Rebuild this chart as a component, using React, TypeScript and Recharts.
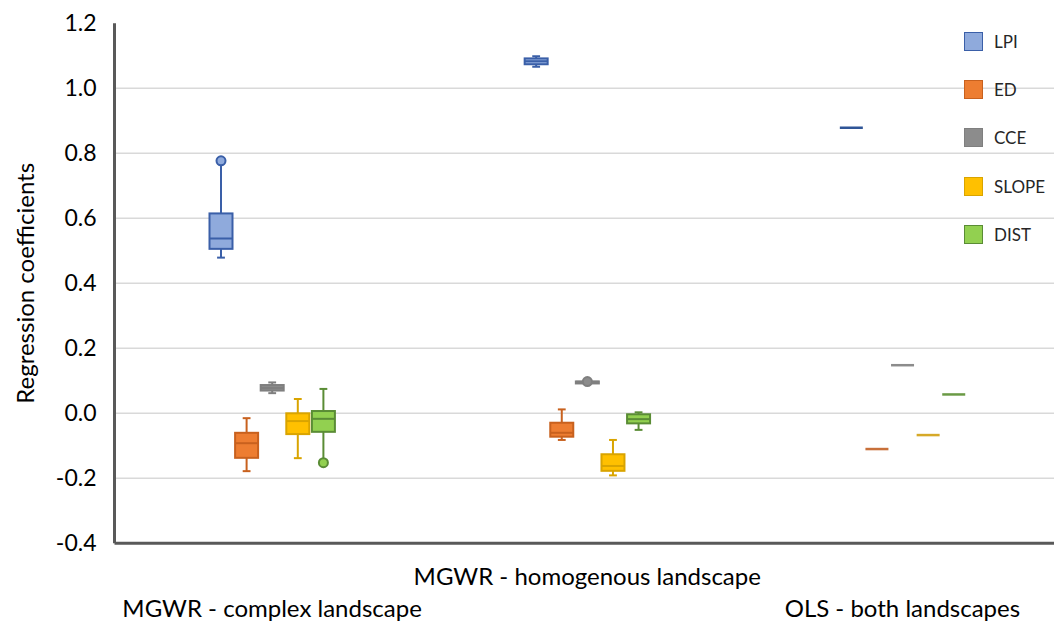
import { BarChart, Bar, XAxis, YAxis, CartesianGrid, Legend } from 'recharts';

// box stats per group: [min, q1, median, q3, max]
const groups = ['MGWR - complex landscape', 'MGWR - homogenous landscape', 'OLS - both landscapes'];
const seriesNames = ['LPI', 'ED', 'CCE', 'SLOPE', 'DIST'];

const lpiStats = [[0.479, 0.506, 0.538, 0.615, 0.77], [1.066, 1.074, 1.083, 1.092, 1.099], [0.879, 0.879, 0.879, 0.879, 0.879]];
const edStats = [[-0.178, -0.137, -0.092, -0.06, -0.015], [-0.082, -0.072, -0.06, -0.029, 0.012], [-0.11, -0.11, -0.11, -0.11, -0.11]];
const cceStats = [[0.062, 0.07, 0.078, 0.087, 0.095], [0.095, 0.096, 0.097, 0.098, 0.099], [0.148, 0.148, 0.148, 0.148, 0.148]];
const slopeStats = [[-0.138, -0.064, -0.024, 0.0, 0.044], [-0.191, -0.177, -0.162, -0.126, -0.082], [-0.067, -0.067, -0.067, -0.067, -0.067]];
const distStats = [[-0.145, -0.057, -0.017, 0.007, 0.075], [-0.051, -0.031, -0.018, -0.003, 0.003], [0.058, 0.058, 0.058, 0.058, 0.058]];

const lpiOutliers = [[0.777], [], []];
const edOutliers = [[], [], []];
const cceOutliers = [[], [0.0975], []];
const slopeOutliers = [[], [], []];
const distOutliers = [[-0.152], [], []];

const yTicks = [-0.4, -0.2, 0, 0.2, 0.4, 0.6, 0.8, 1.0, 1.2];
const gridValues = [-0.2, 0, 0.2, 0.4, 0.6, 0.8, 1.0];

const statsBySeries: Record<string, number[][]> = { LPI: lpiStats, ED: edStats, CCE: cceStats, SLOPE: slopeStats, DIST: distStats };
const outliersBySeries: Record<string, number[][]> = { LPI: lpiOutliers, ED: edOutliers, CCE: cceOutliers, SLOPE: slopeOutliers, DIST: distOutliers };

const colors: Record<string, { fill: string; stroke: string; flat: string }> = {
  LPI: { fill: '#8FAADC', stroke: '#3A5FA8', flat: '#2F5597' },
  ED: { fill: '#ED7D31', stroke: '#C8611E', flat: '#C8703A' },
  CCE: { fill: '#8C8C8C', stroke: '#7F7F7F', flat: '#8C8C8C' },
  SLOPE: { fill: '#FFC000', stroke: '#D9A400', flat: '#D6A928' },
  DIST: { fill: '#92D050', stroke: '#5A8C35', flat: '#6A9A45' },
};

const rows = groups.map((name, gi) => {
  const row: any = { name };
  seriesNames.forEach((s) => {
    const st = statsBySeries[s][gi];
    const out = outliersBySeries[s][gi];
    const all = [...st, ...out];
    row[s] = [Math.min(...all), Math.max(...all)];
    row[s + '_stats'] = st;
    row[s + '_out'] = out;
  });
  return row;
});

const makeBoxShape = (key: string) => (props: any) => {
  const { x, y, width, height, payload } = props;
  const [lo, hi] = payload[key];
  const st: number[] = payload[key + '_stats'];
  const out: number[] = payload[key + '_out'];
  const c = colors[key];
  const top = Math.min(y, y + height);
  const h = Math.abs(height);
  const pix = (v: number) => (hi === lo ? top : top + ((hi - v) / (hi - lo)) * h);
  const cx = x + width / 2;
  const cap = width * 0.17;

  if (st[0] === st[4] && out.length === 0) {
    return <line x1={x} x2={x + width} y1={pix(st[2])} y2={pix(st[2])} stroke={c.flat} strokeWidth={2.5} />;
  }
  const [mn, q1, md, q3, mx] = st;
  return (
    <g>
      <line x1={cx} x2={cx} y1={pix(mx)} y2={pix(q3)} stroke={c.stroke} strokeWidth={2} />
      <line x1={cx} x2={cx} y1={pix(q1)} y2={pix(mn)} stroke={c.stroke} strokeWidth={2} />
      <line x1={cx - cap} x2={cx + cap} y1={pix(mx)} y2={pix(mx)} stroke={c.stroke} strokeWidth={2} />
      <line x1={cx - cap} x2={cx + cap} y1={pix(mn)} y2={pix(mn)} stroke={c.stroke} strokeWidth={2} />
      <rect x={x} y={pix(q3)} width={width} height={Math.max(pix(q1) - pix(q3), 2)} fill={c.fill} stroke={c.stroke} strokeWidth={2} />
      <line x1={x} x2={x + width} y1={pix(md)} y2={pix(md)} stroke={c.stroke} strokeWidth={2} />
      {out.map((o, i) => (
        <circle key={i} cx={cx} cy={pix(o)} r={4.5} fill={c.fill} stroke={c.stroke} strokeWidth={2} />
      ))}
    </g>
  );
};

const GroupTick = (props: any) => {
  const { x, y, payload, index } = props;
  const dy = index === 1 ? 42 : 74;
  return (
    <text x={x} y={y + dy} textAnchor="middle" fontSize={24} fontFamily="Lato" fill="#000">
      {payload.value}
    </text>
  );
};

const LegendContent = () => (
  <div style={{ fontFamily: 'Lato', fontSize: 17, color: '#262626' }}>
    {seriesNames.map((s) => (
      <div key={s} style={{ display: 'flex', alignItems: 'center', height: 48.3 }}>
        <span
          style={{
            display: 'inline-block',
            width: 19,
            height: 19,
            background: colors[s].fill,
            border: `1.5px solid ${colors[s].stroke}`,
            boxSizing: 'border-box',
            marginRight: 11,
          }}
        />
        {s}
      </div>
    ))}
  </div>
);

const App = () => {
  return (
    <div style={{ position: 'absolute', left: 0, top: 0, width: 1054, height: 626, overflow: 'hidden', background: '#fff' }}>
      <BarChart
        width={1060}
        height={626}
        data={rows}
        margin={{ top: 23.3, right: 0, bottom: 0, left: 0 }}
        barSize={23}
        barGap={2.6}
      >
        <CartesianGrid vertical={false} stroke="#D9D9D9" strokeWidth={1.5} horizontalValues={gridValues} />
        <XAxis
          dataKey="name"
          height={82.7}
          tickLine={false}
          tickSize={0}
          tickMargin={0}
          axisLine={{ stroke: '#595959', strokeWidth: 3 }}
          tick={<GroupTick />}
          interval={0}
        />
        <YAxis
          type="number"
          domain={[-0.4, 1.2]}
          ticks={yTicks}
          width={114.5}
          tickLine={false}
          tickSize={0}
          tickMargin={18}
          allowDataOverflow
          axisLine={{ stroke: '#595959', strokeWidth: 3 }}
          tickFormatter={(v: number) => v.toFixed(1)}
          tick={{ fontSize: 23, fontFamily: 'Lato', fill: '#000' }}
          label={{
            value: 'Regression coefficients',
            angle: -90,
            position: 'insideLeft',
            offset: 25,
            style: { textAnchor: 'middle', fontSize: 24, fontFamily: 'Lato', fill: '#000' },
          }}
        />
        <Legend
          layout="horizontal"
          verticalAlign="middle"
          align="center"
          wrapperStyle={{ left: 964, top: 17, width: 90 }}
          content={<LegendContent />}
        />
        {seriesNames.map((s) => (
          <Bar key={s} dataKey={s} fill={colors[s].fill} shape={makeBoxShape(s)} isAnimationActive={false} />
        ))}
      </BarChart>
    </div>
  );
};

export default App;
